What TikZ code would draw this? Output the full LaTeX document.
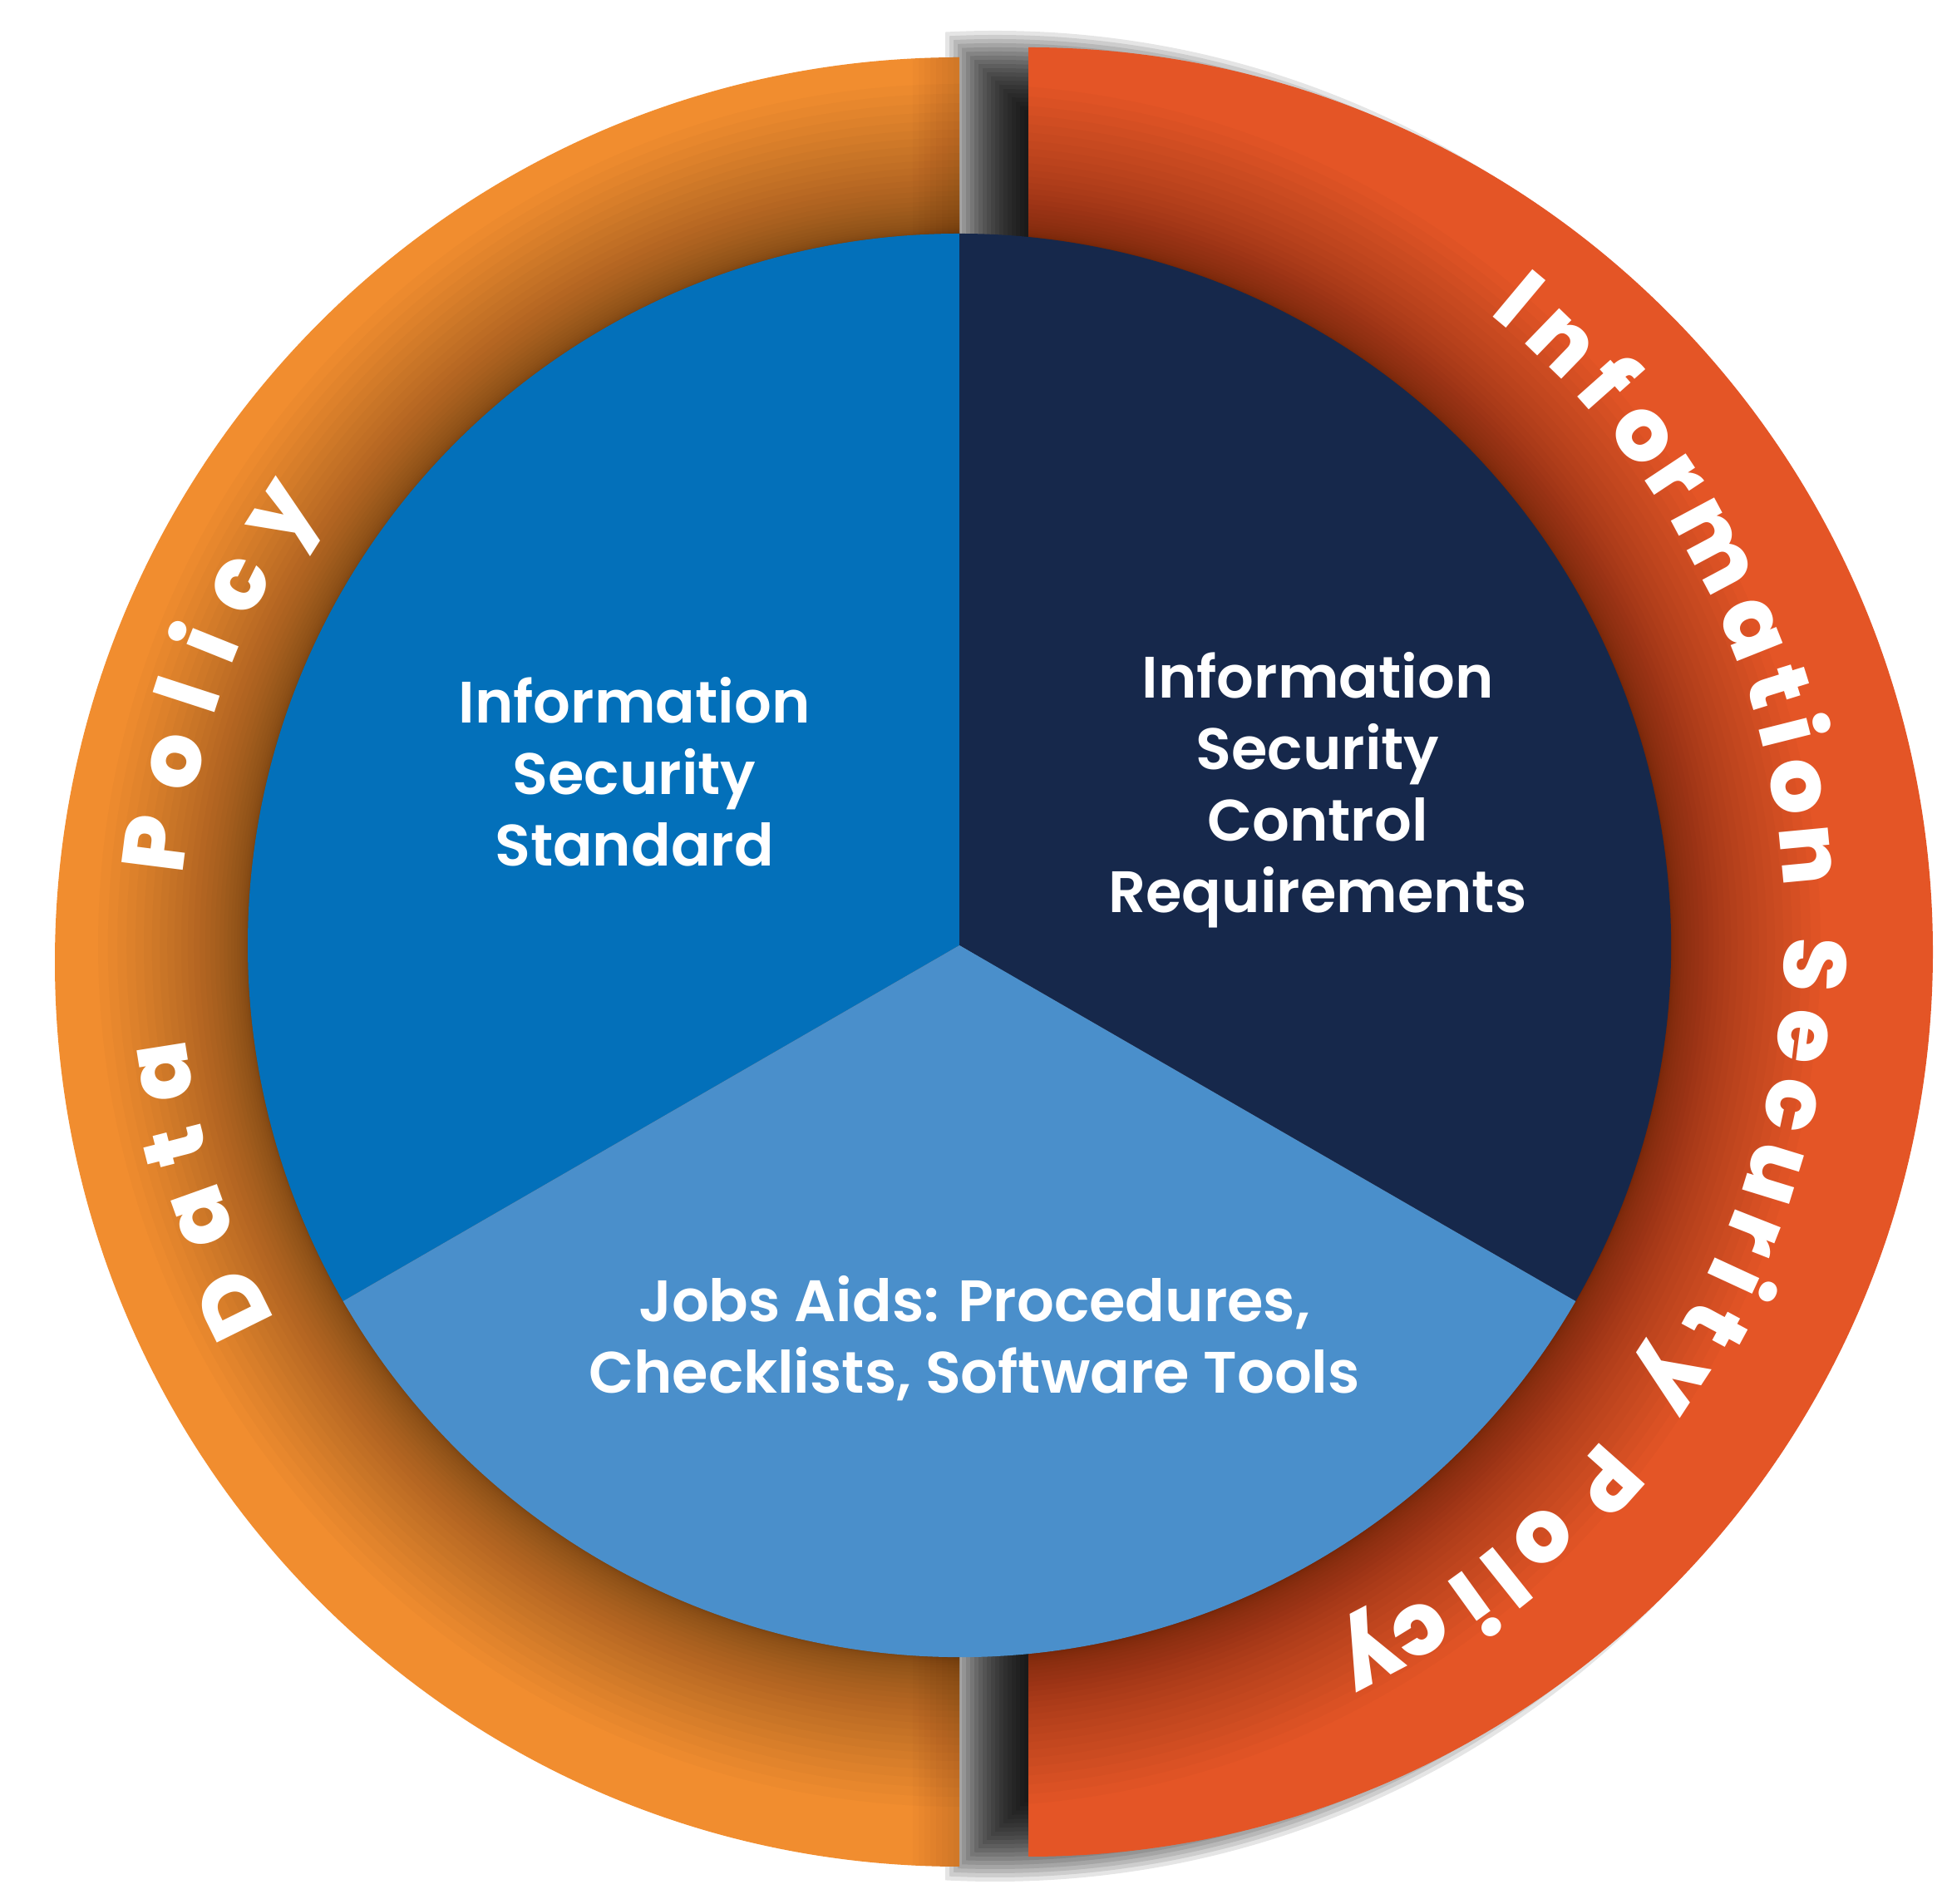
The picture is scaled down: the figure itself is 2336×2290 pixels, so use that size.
\documentclass[tikz,border=0pt]{standalone}
\usepackage{fontspec}
\usetikzlibrary{calc}
\newfontfamily\labelfont{Poppins SemiBold}
\newfontfamily\ringfont{Poppins ExtraBold}
\definecolor{dataorange}{HTML}{F18D2F}
\definecolor{policyred}{HTML}{E45526}
\definecolor{standardblue}{HTML}{0370BA}
\definecolor{controlnavy}{HTML}{16284B}
\definecolor{jobsblue}{HTML}{4A8FCB}

\begin{document}
\begin{tikzpicture}[x=0.1mm, y=0.1mm,
        sectortext/.style={text=white, align=center, anchor=base, inner sep=0pt,
            font=\labelfont\fontsize{20}{24.5}\selectfont},
        ringletter/.style={text=white, anchor=base, inner sep=0pt,
            font=\ringfont\fontsize{30}{30}\selectfont}]
    \useasboundingbox (0,0) rectangle (2336,2290);
    \fill[white] (0,0) rectangle (2336,2290);

    \coordinate (pc) at (1154,1153);
    \coordinate (tc) at (1191,1169);

    % shadow of the right ring
    \foreach \k in {0,...,20} {
        \begin{scope}
            \clip (1237-5*\k,0) rectangle (2336,2290);
            \fill[black, opacity=0.1] (1197,1140) circle[radius=1013+5*\k];
        \end{scope}
    }

    % rings
    \fill[dataorange] (1154,2221) arc[start angle=90, end angle=270, radius=1088] -- cycle;
    \fill[policyred] (1237,2233) arc[start angle=90, end angle=-90, radius=1088] -- cycle;

    \begin{scope}
        \clip (1154,2221) arc[start angle=90, end angle=270, radius=1088] -- cycle;
        \foreach \k in {1,...,8}
            \fill[black, opacity=0.015] (1154-7*\k,0) rectangle (1154,2290);
    \end{scope}

    % shade of the pie on the rings
    \begin{scope}
        \clip (1154,2221) arc[start angle=90, end angle=270, radius=1088] -- cycle
              (1237,2233) arc[start angle=90, end angle=-90, radius=1088] -- cycle;
        \foreach \k in {1,...,30}
            \fill[black, opacity=0.018] (pc) circle[radius=856+0.2*\k*\k];
    \end{scope}

    % pie
    \fill[standardblue] (pc) -- ++(90:856) arc[start angle=90, end angle=210, radius=856] -- cycle;
    \fill[controlnavy] (pc) -- ++(-30:856) arc[start angle=-30, end angle=90, radius=856] -- cycle;
    \fill[jobsblue] (pc) -- ++(210:856) arc[start angle=210, end angle=330, radius=856] -- cycle;

    \node[sectortext] (standard) at (763,1248) {Information\\Security\\Standard};
    \node[sectortext] (control) at (1585,1192) {Information\\Security\\Control\\Requirements};
    \node[sectortext] (jobs) at (1172,614) {Jobs Aids: Procedures,\\Checklists, Software Tools};

    % ring texts
    \foreach \ch/\ang [count=\i] in {D/206.3, a/199.7, t/194.4, a/189.0, P/172.8,
            o/166.8, l/162.0, i/158.1, c/153.4, y/147.5}
        \node[ringletter, rotate=\ang-90] (data\i) at ($(pc)+(\ang:938)$) {\ch};
    \foreach \ch/\ang [count=\i] in {I/50.1, n/45.9, f/41.6, o/37.3, r/33.5, m/28.1,
            a/21.7, t/17.3, i/14.1, o/10.2, n/5.4, S/-2.3, e/-7.3, c/-12.2, u/-17.1,
            r/-21.5, i/-24.8, t/-28.4, y/-33.2, P/-41.7, o/-47.6, l/-51.4, i/-54.2,
            c/-58.4, y/-62.3}
        \node[ringletter, rotate=\ang-90] (isp\i) at ($(tc)+(\ang:956)$) {\ch};
\end{tikzpicture}
\end{document}
